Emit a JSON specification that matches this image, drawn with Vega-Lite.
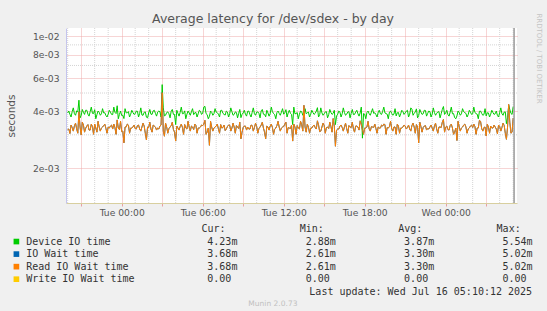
{
"$schema": "https://vega.github.io/schema/vega-lite/v6.json",
"autosize": "none",
"width": 451,
"height": 175,
"padding": {"left": 66, "top": 28, "right": 30, "bottom": 108},
"background": "#f0f0f0",
"config": {"view": {"fill": "#ffffff", "stroke": null}, "font": "DejaVu Sans"},
"title": {"text": "Average latency for /dev/sdex - by day", "fontSize": 12.5, "fontWeight": "normal", "color": "#555555", "anchor": "middle", "dx": -18.5, "dy": 17, "offset": 4, "font": "DejaVu Sans"},
"datasets": {
"s": [
{"t":"2025-07-14T20:00","d":0.00392,"r":0.00320},{"t":"2025-07-14T20:10","d":0.00385,"r":0.00305},{"t":"2025-07-14T20:20","d":0.00398,"r":0.00328},{"t":"2025-07-14T20:30","d":0.00388,"r":0.00335},{"t":"2025-07-14T20:40","d":0.00402,"r":0.00322},{"t":"2025-07-14T20:50","d":0.00458,"r":0.00398},
{"t":"2025-07-14T21:00","d":0.00380,"r":0.00300},{"t":"2025-07-14T21:10","d":0.00395,"r":0.00338},{"t":"2025-07-14T21:20","d":0.00405,"r":0.00325},{"t":"2025-07-14T21:30","d":0.00386,"r":0.00340},{"t":"2025-07-14T21:40","d":0.00398,"r":0.00318},{"t":"2025-07-14T21:50","d":0.00390,"r":0.00332},
{"t":"2025-07-14T22:00","d":0.00408,"r":0.00342},{"t":"2025-07-14T22:10","d":0.00384,"r":0.00310},{"t":"2025-07-14T22:20","d":0.00395,"r":0.00330},{"t":"2025-07-14T22:30","d":0.00388,"r":0.00326},{"t":"2025-07-14T22:40","d":0.00392,"r":0.00336},{"t":"2025-07-14T22:50","d":0.00380,"r":0.00324},
{"t":"2025-07-14T23:00","d":0.00386,"r":0.00330},{"t":"2025-07-14T23:10","d":0.00396,"r":0.00334},{"t":"2025-07-14T23:20","d":0.00384,"r":0.00322},{"t":"2025-07-14T23:30","d":0.00395,"r":0.00328},{"t":"2025-07-14T23:40","d":0.00428,"r":0.00360},{"t":"2025-07-14T23:50","d":0.00385,"r":0.00320},
{"t":"2025-07-15T00:00","d":0.00380,"r":0.00312},{"t":"2025-07-15T00:10","d":0.00366,"r":0.00272},{"t":"2025-07-15T00:20","d":0.00392,"r":0.00330},{"t":"2025-07-15T00:30","d":0.00398,"r":0.00338},{"t":"2025-07-15T00:40","d":0.00386,"r":0.00326},{"t":"2025-07-15T00:50","d":0.00394,"r":0.00330},
{"t":"2025-07-15T01:00","d":0.00388,"r":0.00324},{"t":"2025-07-15T01:10","d":0.00400,"r":0.00336},{"t":"2025-07-15T01:20","d":0.00390,"r":0.00322},{"t":"2025-07-15T01:30","d":0.00382,"r":0.00330},{"t":"2025-07-15T01:40","d":0.00395,"r":0.00334},{"t":"2025-07-15T01:50","d":0.00372,"r":0.00282},
{"t":"2025-07-15T02:00","d":0.00392,"r":0.00328},{"t":"2025-07-15T02:10","d":0.00386,"r":0.00322},{"t":"2025-07-15T02:20","d":0.00402,"r":0.00338},{"t":"2025-07-15T02:30","d":0.00390,"r":0.00330},{"t":"2025-07-15T02:40","d":0.00396,"r":0.00326},{"t":"2025-07-15T02:50","d":0.00398,"r":0.00334},
{"t":"2025-07-15T03:00","d":0.00554,"r":0.00502},{"t":"2025-07-15T03:10","d":0.00378,"r":0.00295},{"t":"2025-07-15T03:20","d":0.00394,"r":0.00330},{"t":"2025-07-15T03:30","d":0.00388,"r":0.00324},{"t":"2025-07-15T03:40","d":0.00400,"r":0.00336},{"t":"2025-07-15T03:50","d":0.00385,"r":0.00320},
{"t":"2025-07-15T04:00","d":0.00340,"r":0.00278},{"t":"2025-07-15T04:10","d":0.00390,"r":0.00326},{"t":"2025-07-15T04:20","d":0.00395,"r":0.00332},{"t":"2025-07-15T04:30","d":0.00388,"r":0.00328},{"t":"2025-07-15T04:40","d":0.00402,"r":0.00340},{"t":"2025-07-15T04:50","d":0.00386,"r":0.00322},
{"t":"2025-07-15T05:00","d":0.00392,"r":0.00330},{"t":"2025-07-15T05:10","d":0.00398,"r":0.00334},{"t":"2025-07-15T05:20","d":0.00384,"r":0.00320},{"t":"2025-07-15T05:30","d":0.00394,"r":0.00336},{"t":"2025-07-15T05:40","d":0.00388,"r":0.00326},{"t":"2025-07-15T05:50","d":0.00400,"r":0.00330},
{"t":"2025-07-15T06:00","d":0.00390,"r":0.00336},{"t":"2025-07-15T06:10","d":0.00425,"r":0.00358},{"t":"2025-07-15T06:20","d":0.00384,"r":0.00310},{"t":"2025-07-15T06:30","d":0.00376,"r":0.00264},{"t":"2025-07-15T06:40","d":0.00395,"r":0.00330},{"t":"2025-07-15T06:50","d":0.00388,"r":0.00326},
{"t":"2025-07-15T07:00","d":0.00396,"r":0.00334},{"t":"2025-07-15T07:10","d":0.00386,"r":0.00322},{"t":"2025-07-15T07:20","d":0.00404,"r":0.00340},{"t":"2025-07-15T07:30","d":0.00390,"r":0.00328},{"t":"2025-07-15T07:40","d":0.00382,"r":0.00316},{"t":"2025-07-15T07:50","d":0.00396,"r":0.00332},
{"t":"2025-07-15T08:00","d":0.00388,"r":0.00338},{"t":"2025-07-15T08:10","d":0.00398,"r":0.00326},{"t":"2025-07-15T08:20","d":0.00385,"r":0.00330},{"t":"2025-07-15T08:30","d":0.00394,"r":0.00336},{"t":"2025-07-15T08:40","d":0.00390,"r":0.00324},{"t":"2025-07-15T08:50","d":0.00370,"r":0.00286},
{"t":"2025-07-15T09:00","d":0.00392,"r":0.00328},{"t":"2025-07-15T09:10","d":0.00386,"r":0.00334},{"t":"2025-07-15T09:20","d":0.00400,"r":0.00330},{"t":"2025-07-15T09:30","d":0.00384,"r":0.00322},{"t":"2025-07-15T09:40","d":0.00395,"r":0.00336},{"t":"2025-07-15T09:50","d":0.00388,"r":0.00328},
{"t":"2025-07-15T10:00","d":0.00396,"r":0.00332},{"t":"2025-07-15T10:10","d":0.00390,"r":0.00324},{"t":"2025-07-15T10:20","d":0.00402,"r":0.00338},{"t":"2025-07-15T10:30","d":0.00386,"r":0.00326},{"t":"2025-07-15T10:40","d":0.00374,"r":0.00286},{"t":"2025-07-15T10:50","d":0.00392,"r":0.00330},
{"t":"2025-07-15T11:00","d":0.00388,"r":0.00334},{"t":"2025-07-15T11:10","d":0.00398,"r":0.00328},{"t":"2025-07-15T11:20","d":0.00384,"r":0.00322},{"t":"2025-07-15T11:30","d":0.00394,"r":0.00336},{"t":"2025-07-15T11:40","d":0.00390,"r":0.00330},{"t":"2025-07-15T11:50","d":0.00396,"r":0.00326},
{"t":"2025-07-15T12:00","d":0.00386,"r":0.00332},{"t":"2025-07-15T12:10","d":0.00408,"r":0.00350},{"t":"2025-07-15T12:20","d":0.00392,"r":0.00328},{"t":"2025-07-15T12:30","d":0.00390,"r":0.00324},{"t":"2025-07-15T12:40","d":0.00340,"r":0.00278},{"t":"2025-07-15T12:50","d":0.00388,"r":0.00330},
{"t":"2025-07-15T13:00","d":0.00394,"r":0.00336},{"t":"2025-07-15T13:10","d":0.00386,"r":0.00322},{"t":"2025-07-15T13:20","d":0.00398,"r":0.00340},{"t":"2025-07-15T13:30","d":0.00392,"r":0.00430},{"t":"2025-07-15T13:40","d":0.00388,"r":0.00310},{"t":"2025-07-15T13:50","d":0.00396,"r":0.00330},
{"t":"2025-07-15T14:00","d":0.00386,"r":0.00326},{"t":"2025-07-15T14:10","d":0.00394,"r":0.00334},{"t":"2025-07-15T14:20","d":0.00390,"r":0.00328},{"t":"2025-07-15T14:30","d":0.00418,"r":0.00356},{"t":"2025-07-15T14:40","d":0.00384,"r":0.00312},{"t":"2025-07-15T14:50","d":0.00392,"r":0.00330},
{"t":"2025-07-15T15:00","d":0.00388,"r":0.00336},{"t":"2025-07-15T15:10","d":0.00398,"r":0.00328},{"t":"2025-07-15T15:20","d":0.00384,"r":0.00324},{"t":"2025-07-15T15:30","d":0.00394,"r":0.00332},{"t":"2025-07-15T15:40","d":0.00390,"r":0.00366},{"t":"2025-07-15T15:50","d":0.00340,"r":0.00261},
{"t":"2025-07-15T16:00","d":0.00386,"r":0.00322},{"t":"2025-07-15T16:10","d":0.00396,"r":0.00334},{"t":"2025-07-15T16:20","d":0.00388,"r":0.00328},{"t":"2025-07-15T16:30","d":0.00394,"r":0.00330},{"t":"2025-07-15T16:40","d":0.00386,"r":0.00324},{"t":"2025-07-15T16:50","d":0.00398,"r":0.00336},
{"t":"2025-07-15T17:00","d":0.00390,"r":0.00328},{"t":"2025-07-15T17:10","d":0.00384,"r":0.00322},{"t":"2025-07-15T17:20","d":0.00396,"r":0.00334},{"t":"2025-07-15T17:30","d":0.00388,"r":0.00330},{"t":"2025-07-15T17:40","d":0.00392,"r":0.00356},{"t":"2025-07-15T17:50","d":0.00288,"r":0.00320},
{"t":"2025-07-15T18:00","d":0.00386,"r":0.00326},{"t":"2025-07-15T18:10","d":0.00394,"r":0.00330},{"t":"2025-07-15T18:20","d":0.00388,"r":0.00322},{"t":"2025-07-15T18:30","d":0.00396,"r":0.00332},{"t":"2025-07-15T18:40","d":0.00390,"r":0.00328},{"t":"2025-07-15T18:50","d":0.00384,"r":0.00324},
{"t":"2025-07-15T19:00","d":0.00394,"r":0.00330},{"t":"2025-07-15T19:10","d":0.00388,"r":0.00326},{"t":"2025-07-15T19:20","d":0.00400,"r":0.00334},{"t":"2025-07-15T19:30","d":0.00392,"r":0.00340},{"t":"2025-07-15T19:40","d":0.00386,"r":0.00328},{"t":"2025-07-15T19:50","d":0.00396,"r":0.00332},
{"t":"2025-07-15T20:00","d":0.00390,"r":0.00324},{"t":"2025-07-15T20:10","d":0.00386,"r":0.00330},{"t":"2025-07-15T20:20","d":0.00378,"r":0.00302},{"t":"2025-07-15T20:30","d":0.00394,"r":0.00334},{"t":"2025-07-15T20:40","d":0.00388,"r":0.00326},{"t":"2025-07-15T20:50","d":0.00398,"r":0.00330},
{"t":"2025-07-15T21:00","d":0.00392,"r":0.00334},{"t":"2025-07-15T21:10","d":0.00405,"r":0.00328},{"t":"2025-07-15T21:20","d":0.00386,"r":0.00322},{"t":"2025-07-15T21:30","d":0.00410,"r":0.00336},{"t":"2025-07-15T21:40","d":0.00390,"r":0.00330},{"t":"2025-07-15T21:50","d":0.00412,"r":0.00340},
{"t":"2025-07-15T22:00","d":0.00380,"r":0.00272},{"t":"2025-07-15T22:10","d":0.00396,"r":0.00332},{"t":"2025-07-15T22:20","d":0.00388,"r":0.00328},{"t":"2025-07-15T22:30","d":0.00404,"r":0.00336},{"t":"2025-07-15T22:40","d":0.00390,"r":0.00324},{"t":"2025-07-15T22:50","d":0.00398,"r":0.00330},
{"t":"2025-07-15T23:00","d":0.00386,"r":0.00326},{"t":"2025-07-15T23:10","d":0.00394,"r":0.00334},{"t":"2025-07-15T23:20","d":0.00390,"r":0.00322},{"t":"2025-07-15T23:30","d":0.00398,"r":0.00330},{"t":"2025-07-15T23:40","d":0.00388,"r":0.00328},{"t":"2025-07-15T23:50","d":0.00424,"r":0.00362},
{"t":"2025-07-16T00:00","d":0.00392,"r":0.00330},{"t":"2025-07-16T00:10","d":0.00384,"r":0.00320},{"t":"2025-07-16T00:20","d":0.00396,"r":0.00336},{"t":"2025-07-16T00:30","d":0.00388,"r":0.00326},{"t":"2025-07-16T00:40","d":0.00370,"r":0.00310},{"t":"2025-07-16T00:50","d":0.00378,"r":0.00280},
{"t":"2025-07-16T01:00","d":0.00394,"r":0.00332},{"t":"2025-07-16T01:10","d":0.00388,"r":0.00326},{"t":"2025-07-16T01:20","d":0.00398,"r":0.00338},{"t":"2025-07-16T01:30","d":0.00390,"r":0.00330},{"t":"2025-07-16T01:40","d":0.00384,"r":0.00322},{"t":"2025-07-16T01:50","d":0.00396,"r":0.00334},
{"t":"2025-07-16T02:00","d":0.00388,"r":0.00328},{"t":"2025-07-16T02:10","d":0.00394,"r":0.00332},{"t":"2025-07-16T02:20","d":0.00386,"r":0.00326},{"t":"2025-07-16T02:30","d":0.00400,"r":0.00358},{"t":"2025-07-16T02:40","d":0.00390,"r":0.00324},{"t":"2025-07-16T02:50","d":0.00384,"r":0.00328},
{"t":"2025-07-16T03:00","d":0.00378,"r":0.00296},{"t":"2025-07-16T03:10","d":0.00392,"r":0.00330},{"t":"2025-07-16T03:20","d":0.00386,"r":0.00334},{"t":"2025-07-16T03:30","d":0.00394,"r":0.00326},{"t":"2025-07-16T03:40","d":0.00388,"r":0.00330},{"t":"2025-07-16T03:50","d":0.00380,"r":0.00304},
{"t":"2025-07-16T04:00","d":0.00394,"r":0.00332},{"t":"2025-07-16T04:10","d":0.00388,"r":0.00328},{"t":"2025-07-16T04:20","d":0.00396,"r":0.00336},{"t":"2025-07-16T04:30","d":0.00344,"r":0.00284},{"t":"2025-07-16T04:40","d":0.00430,"r":0.00435},{"t":"2025-07-16T04:50","d":0.00390,"r":0.00306},
{"t":"2025-07-16T05:00","d":0.00423,"r":0.00368},
{"t":"2025-07-14T20:05","d":0.00401,"r":0.00322},{"t":"2025-07-14T20:15","d":0.00373,"r":0.00338},{"t":"2025-07-14T20:25","d":0.00417,"r":0.00314},{"t":"2025-07-14T20:35","d":0.00381,"r":0.00346},{"t":"2025-07-14T20:45","d":0.00397,"r":0.00306},{"t":"2025-07-14T20:55","d":0.00369,"r":0.00330},{"t":"2025-07-14T21:05","d":0.00409,"r":0.00350},{"t":"2025-07-14T21:15","d":0.00385,"r":0.00310},{"t":"2025-07-14T21:25","d":0.00405,"r":0.00334},{"t":"2025-07-14T21:35","d":0.00377,"r":0.00318},
{"t":"2025-07-14T21:45","d":0.00421,"r":0.00342},{"t":"2025-07-14T21:55","d":0.00389,"r":0.00302},{"t":"2025-07-14T22:05","d":0.00365,"r":0.00326},{"t":"2025-07-14T22:15","d":0.00401,"r":0.00354},{"t":"2025-07-14T22:25","d":0.00381,"r":0.00314},{"t":"2025-07-14T22:35","d":0.00413,"r":0.00330},{"t":"2025-07-14T22:45","d":0.00393,"r":0.00342},{"t":"2025-07-14T22:55","d":0.00373,"r":0.00306},{"t":"2025-07-14T23:05","d":0.00405,"r":0.00326},{"t":"2025-07-14T23:15","d":0.00385,"r":0.00338},
{"t":"2025-07-14T23:25","d":0.00421,"r":0.00342},{"t":"2025-07-14T23:35","d":0.00389,"r":0.00302},{"t":"2025-07-14T23:45","d":0.00365,"r":0.00326},{"t":"2025-07-14T23:55","d":0.00401,"r":0.00354},{"t":"2025-07-15T00:05","d":0.00381,"r":0.00314},{"t":"2025-07-15T00:15","d":0.00413,"r":0.00330},{"t":"2025-07-15T00:25","d":0.00393,"r":0.00342},{"t":"2025-07-15T00:35","d":0.00373,"r":0.00306},{"t":"2025-07-15T00:45","d":0.00405,"r":0.00326},{"t":"2025-07-15T00:55","d":0.00385,"r":0.00338},
{"t":"2025-07-15T01:05","d":0.00401,"r":0.00322},{"t":"2025-07-15T01:15","d":0.00373,"r":0.00338},{"t":"2025-07-15T01:25","d":0.00417,"r":0.00314},{"t":"2025-07-15T01:35","d":0.00381,"r":0.00346},{"t":"2025-07-15T01:45","d":0.00397,"r":0.00306},{"t":"2025-07-15T01:55","d":0.00369,"r":0.00330},{"t":"2025-07-15T02:05","d":0.00409,"r":0.00350},{"t":"2025-07-15T02:15","d":0.00385,"r":0.00310},{"t":"2025-07-15T02:25","d":0.00405,"r":0.00334},{"t":"2025-07-15T02:35","d":0.00377,"r":0.00318},
{"t":"2025-07-15T02:45","d":0.00401,"r":0.00322},{"t":"2025-07-15T02:55","d":0.00373,"r":0.00338},{"t":"2025-07-15T03:05","d":0.00417,"r":0.00314},{"t":"2025-07-15T03:15","d":0.00381,"r":0.00346},{"t":"2025-07-15T03:25","d":0.00397,"r":0.00306},{"t":"2025-07-15T03:35","d":0.00369,"r":0.00330},{"t":"2025-07-15T03:45","d":0.00409,"r":0.00350},{"t":"2025-07-15T03:55","d":0.00385,"r":0.00310},{"t":"2025-07-15T04:05","d":0.00405,"r":0.00334},{"t":"2025-07-15T04:15","d":0.00377,"r":0.00318},
{"t":"2025-07-15T04:25","d":0.00421,"r":0.00342},{"t":"2025-07-15T04:35","d":0.00389,"r":0.00302},{"t":"2025-07-15T04:45","d":0.00365,"r":0.00326},{"t":"2025-07-15T04:55","d":0.00401,"r":0.00354},{"t":"2025-07-15T05:05","d":0.00381,"r":0.00314},{"t":"2025-07-15T05:15","d":0.00413,"r":0.00330},{"t":"2025-07-15T05:25","d":0.00393,"r":0.00342},{"t":"2025-07-15T05:35","d":0.00373,"r":0.00306},{"t":"2025-07-15T05:45","d":0.00405,"r":0.00326},{"t":"2025-07-15T05:55","d":0.00385,"r":0.00338},
{"t":"2025-07-15T06:05","d":0.00421,"r":0.00342},{"t":"2025-07-15T06:15","d":0.00389,"r":0.00302},{"t":"2025-07-15T06:25","d":0.00365,"r":0.00326},{"t":"2025-07-15T06:35","d":0.00401,"r":0.00354},{"t":"2025-07-15T06:45","d":0.00381,"r":0.00314},{"t":"2025-07-15T06:55","d":0.00413,"r":0.00330},{"t":"2025-07-15T07:05","d":0.00393,"r":0.00342},{"t":"2025-07-15T07:15","d":0.00373,"r":0.00306},{"t":"2025-07-15T07:25","d":0.00405,"r":0.00326},{"t":"2025-07-15T07:35","d":0.00385,"r":0.00338},
{"t":"2025-07-15T07:45","d":0.00401,"r":0.00322},{"t":"2025-07-15T07:55","d":0.00373,"r":0.00338},{"t":"2025-07-15T08:05","d":0.00417,"r":0.00314},{"t":"2025-07-15T08:15","d":0.00381,"r":0.00346},{"t":"2025-07-15T08:25","d":0.00397,"r":0.00306},{"t":"2025-07-15T08:35","d":0.00369,"r":0.00330},{"t":"2025-07-15T08:45","d":0.00409,"r":0.00350},{"t":"2025-07-15T08:55","d":0.00385,"r":0.00310},{"t":"2025-07-15T09:05","d":0.00405,"r":0.00334},{"t":"2025-07-15T09:15","d":0.00377,"r":0.00318},
{"t":"2025-07-15T09:25","d":0.00401,"r":0.00322},{"t":"2025-07-15T09:35","d":0.00373,"r":0.00338},{"t":"2025-07-15T09:45","d":0.00417,"r":0.00314},{"t":"2025-07-15T09:55","d":0.00381,"r":0.00346},{"t":"2025-07-15T10:05","d":0.00397,"r":0.00306},{"t":"2025-07-15T10:15","d":0.00369,"r":0.00330},{"t":"2025-07-15T10:25","d":0.00409,"r":0.00350},{"t":"2025-07-15T10:35","d":0.00385,"r":0.00310},{"t":"2025-07-15T10:45","d":0.00405,"r":0.00334},{"t":"2025-07-15T10:55","d":0.00377,"r":0.00318},
{"t":"2025-07-15T11:05","d":0.00421,"r":0.00342},{"t":"2025-07-15T11:15","d":0.00389,"r":0.00302},{"t":"2025-07-15T11:25","d":0.00365,"r":0.00326},{"t":"2025-07-15T11:35","d":0.00401,"r":0.00354},{"t":"2025-07-15T11:45","d":0.00381,"r":0.00314},{"t":"2025-07-15T11:55","d":0.00413,"r":0.00330},{"t":"2025-07-15T12:05","d":0.00393,"r":0.00342},{"t":"2025-07-15T12:15","d":0.00373,"r":0.00306},{"t":"2025-07-15T12:25","d":0.00405,"r":0.00326},{"t":"2025-07-15T12:35","d":0.00385,"r":0.00338},
{"t":"2025-07-15T12:45","d":0.00421,"r":0.00342},{"t":"2025-07-15T12:55","d":0.00389,"r":0.00302},{"t":"2025-07-15T13:05","d":0.00365,"r":0.00326},{"t":"2025-07-15T13:15","d":0.00401,"r":0.00354},{"t":"2025-07-15T13:25","d":0.00381,"r":0.00314},{"t":"2025-07-15T13:35","d":0.00413,"r":0.00330},{"t":"2025-07-15T13:45","d":0.00393,"r":0.00342},{"t":"2025-07-15T13:55","d":0.00373,"r":0.00306},{"t":"2025-07-15T14:05","d":0.00405,"r":0.00326},{"t":"2025-07-15T14:15","d":0.00385,"r":0.00338},
{"t":"2025-07-15T14:25","d":0.00401,"r":0.00322},{"t":"2025-07-15T14:35","d":0.00373,"r":0.00338},{"t":"2025-07-15T14:45","d":0.00417,"r":0.00314},{"t":"2025-07-15T14:55","d":0.00381,"r":0.00346},{"t":"2025-07-15T15:05","d":0.00397,"r":0.00306},{"t":"2025-07-15T15:15","d":0.00369,"r":0.00330},{"t":"2025-07-15T15:25","d":0.00409,"r":0.00350},{"t":"2025-07-15T15:35","d":0.00385,"r":0.00310},{"t":"2025-07-15T15:45","d":0.00405,"r":0.00334},{"t":"2025-07-15T15:55","d":0.00377,"r":0.00318},
{"t":"2025-07-15T16:05","d":0.00401,"r":0.00322},{"t":"2025-07-15T16:15","d":0.00373,"r":0.00338},{"t":"2025-07-15T16:25","d":0.00417,"r":0.00314},{"t":"2025-07-15T16:35","d":0.00381,"r":0.00346},{"t":"2025-07-15T16:45","d":0.00397,"r":0.00306},{"t":"2025-07-15T16:55","d":0.00369,"r":0.00330},{"t":"2025-07-15T17:05","d":0.00409,"r":0.00350},{"t":"2025-07-15T17:15","d":0.00385,"r":0.00310},{"t":"2025-07-15T17:25","d":0.00405,"r":0.00334},{"t":"2025-07-15T17:35","d":0.00377,"r":0.00318},
{"t":"2025-07-15T17:45","d":0.00421,"r":0.00342},{"t":"2025-07-15T17:55","d":0.00389,"r":0.00302},{"t":"2025-07-15T18:05","d":0.00365,"r":0.00326},{"t":"2025-07-15T18:15","d":0.00401,"r":0.00354},{"t":"2025-07-15T18:25","d":0.00381,"r":0.00314},{"t":"2025-07-15T18:35","d":0.00413,"r":0.00330},{"t":"2025-07-15T18:45","d":0.00393,"r":0.00342},{"t":"2025-07-15T18:55","d":0.00373,"r":0.00306},{"t":"2025-07-15T19:05","d":0.00405,"r":0.00326},{"t":"2025-07-15T19:15","d":0.00385,"r":0.00338},
{"t":"2025-07-15T19:25","d":0.00421,"r":0.00342},{"t":"2025-07-15T19:35","d":0.00389,"r":0.00302},{"t":"2025-07-15T19:45","d":0.00365,"r":0.00326},{"t":"2025-07-15T19:55","d":0.00401,"r":0.00354},{"t":"2025-07-15T20:05","d":0.00381,"r":0.00314},{"t":"2025-07-15T20:15","d":0.00413,"r":0.00330},{"t":"2025-07-15T20:25","d":0.00393,"r":0.00342},{"t":"2025-07-15T20:35","d":0.00373,"r":0.00306},{"t":"2025-07-15T20:45","d":0.00405,"r":0.00326},{"t":"2025-07-15T20:55","d":0.00385,"r":0.00338},
{"t":"2025-07-15T21:05","d":0.00401,"r":0.00322},{"t":"2025-07-15T21:15","d":0.00373,"r":0.00338},{"t":"2025-07-15T21:25","d":0.00417,"r":0.00314},{"t":"2025-07-15T21:35","d":0.00381,"r":0.00346},{"t":"2025-07-15T21:45","d":0.00397,"r":0.00306},{"t":"2025-07-15T21:55","d":0.00369,"r":0.00330},{"t":"2025-07-15T22:05","d":0.00409,"r":0.00350},{"t":"2025-07-15T22:15","d":0.00385,"r":0.00310},{"t":"2025-07-15T22:25","d":0.00405,"r":0.00334},{"t":"2025-07-15T22:35","d":0.00377,"r":0.00318},
{"t":"2025-07-15T22:45","d":0.00401,"r":0.00322},{"t":"2025-07-15T22:55","d":0.00373,"r":0.00338},{"t":"2025-07-15T23:05","d":0.00417,"r":0.00314},{"t":"2025-07-15T23:15","d":0.00381,"r":0.00346},{"t":"2025-07-15T23:25","d":0.00397,"r":0.00306},{"t":"2025-07-15T23:35","d":0.00369,"r":0.00330},{"t":"2025-07-15T23:45","d":0.00409,"r":0.00350},{"t":"2025-07-15T23:55","d":0.00385,"r":0.00310},{"t":"2025-07-16T00:05","d":0.00405,"r":0.00334},{"t":"2025-07-16T00:15","d":0.00377,"r":0.00318},
{"t":"2025-07-16T00:25","d":0.00421,"r":0.00342},{"t":"2025-07-16T00:35","d":0.00389,"r":0.00302},{"t":"2025-07-16T00:45","d":0.00365,"r":0.00326},{"t":"2025-07-16T00:55","d":0.00401,"r":0.00354},{"t":"2025-07-16T01:05","d":0.00381,"r":0.00314},{"t":"2025-07-16T01:15","d":0.00413,"r":0.00330},{"t":"2025-07-16T01:25","d":0.00393,"r":0.00342},{"t":"2025-07-16T01:35","d":0.00373,"r":0.00306},{"t":"2025-07-16T01:45","d":0.00405,"r":0.00326},{"t":"2025-07-16T01:55","d":0.00385,"r":0.00338},
{"t":"2025-07-16T02:05","d":0.00421,"r":0.00342},{"t":"2025-07-16T02:15","d":0.00389,"r":0.00302},{"t":"2025-07-16T02:25","d":0.00365,"r":0.00326},{"t":"2025-07-16T02:35","d":0.00401,"r":0.00354},{"t":"2025-07-16T02:45","d":0.00381,"r":0.00314},{"t":"2025-07-16T02:55","d":0.00413,"r":0.00330},{"t":"2025-07-16T03:05","d":0.00393,"r":0.00342},{"t":"2025-07-16T03:15","d":0.00373,"r":0.00306},{"t":"2025-07-16T03:25","d":0.00405,"r":0.00326},{"t":"2025-07-16T03:35","d":0.00385,"r":0.00338},
{"t":"2025-07-16T03:45","d":0.00401,"r":0.00322},{"t":"2025-07-16T03:55","d":0.00373,"r":0.00338},{"t":"2025-07-16T04:05","d":0.00417,"r":0.00314},{"t":"2025-07-16T04:15","d":0.00381,"r":0.00346},{"t":"2025-07-16T04:25","d":0.00397,"r":0.00306},{"t":"2025-07-16T04:35","d":0.00369,"r":0.00330},{"t":"2025-07-16T04:45","d":0.00409,"r":0.00350},{"t":"2025-07-16T04:55","d":0.00385,"r":0.00310}
],
"now": [{"t":"2025-07-16T05:04"}],
"vmin": [{"t":"2025-07-14T20:00"},{"t":"2025-07-14T22:00"},{"t":"2025-07-14T23:00"},{"t":"2025-07-15T01:00"},{"t":"2025-07-15T02:00"},{"t":"2025-07-15T04:00"},{"t":"2025-07-15T05:00"},{"t":"2025-07-15T07:00"},{"t":"2025-07-15T08:00"},{"t":"2025-07-15T10:00"},{"t":"2025-07-15T11:00"},{"t":"2025-07-15T13:00"},{"t":"2025-07-15T14:00"},{"t":"2025-07-15T16:00"},{"t":"2025-07-15T17:00"},{"t":"2025-07-15T19:00"},{"t":"2025-07-15T20:00"},{"t":"2025-07-15T22:00"},{"t":"2025-07-15T23:00"},{"t":"2025-07-16T01:00"},{"t":"2025-07-16T02:00"},{"t":"2025-07-16T04:00"},{"t":"2025-07-16T05:00"}],
"hmin": [{"v":0.003},{"v":0.005},{"v":0.007},{"v":0.009}],
"tbl": [
{"row":"head","col":"cur","v":"Cur:"},{"row":"head","col":"min","v":"Min:"},{"row":"head","col":"avg","v":"Avg:"},{"row":"head","col":"max","v":"Max:"},
{"row":"dev","col":"cur","v":"4.23m"},{"row":"dev","col":"min","v":"2.88m"},{"row":"dev","col":"avg","v":"3.87m"},{"row":"dev","col":"max","v":"5.54m"},
{"row":"iow","col":"cur","v":"3.68m"},{"row":"iow","col":"min","v":"2.61m"},{"row":"iow","col":"avg","v":"3.30m"},{"row":"iow","col":"max","v":"5.02m"},
{"row":"rd","col":"cur","v":"3.68m"},{"row":"rd","col":"min","v":"2.61m"},{"row":"rd","col":"avg","v":"3.30m"},{"row":"rd","col":"max","v":"5.02m"},
{"row":"wr","col":"cur","v":"0.00"},{"row":"wr","col":"min","v":"0.00"},{"row":"wr","col":"avg","v":"0.00"},{"row":"wr","col":"max","v":"0.00"},
{"row":"upd","col":"max","v":"Last update: Wed Jul 16 05:10:12 2025"},
{"row":"munin","col":"min","v":"Munin 2.0.73"}
],
"leg": [
{"row":"dev","c":"sw","name":"Device IO time"},{"row":"iow","c":"sw","name":"IO Wait time"},{"row":"rd","c":"sw","name":"Read IO Wait time"},{"row":"wr","c":"sw","name":"Write IO Wait time"}
]
},
"layer": [
{
"layer": [
{"data":{"name":"vmin"},"mark":{"type":"rule","color":"#d4d4d4","strokeWidth":1,"strokeDash":[1,1]},
"encoding":{"x":{"field":"t","type":"temporal","title":null,"scale":{"domain":[{"year":2025,"month":7,"date":14,"hours":19,"minutes":52,"seconds":30},{"year":2025,"month":7,"date":16,"hours":5,"minutes":17}]}}}},
{"data":{"name":"hmin"},"mark":{"type":"rule","color":"#d4d4d4","strokeWidth":1,"strokeDash":[1,1]},
"encoding":{"y":{"field":"v","type":"quantitative","title":"seconds","scale":{"type":"log","domain":[0.001305,0.01106],"nice":false}}}},
{"data":{"name":"s"},"mark":{"type":"line","strokeWidth":1,"color":"#00cc00"},
"encoding":{
"x":{"field":"t","type":"temporal","title":null,"scale":{"domain":[{"year":2025,"month":7,"date":14,"hours":19,"minutes":52,"seconds":30},{"year":2025,"month":7,"date":16,"hours":5,"minutes":17}]},
"axis":{"values":[{"year":2025,"month":7,"date":14,"hours":21},{"year":2025,"month":7,"date":15,"hours":0},{"year":2025,"month":7,"date":15,"hours":3},{"year":2025,"month":7,"date":15,"hours":6},{"year":2025,"month":7,"date":15,"hours":9},{"year":2025,"month":7,"date":15,"hours":12},{"year":2025,"month":7,"date":15,"hours":15},{"year":2025,"month":7,"date":15,"hours":18},{"year":2025,"month":7,"date":15,"hours":21},{"year":2025,"month":7,"date":16,"hours":0},{"year":2025,"month":7,"date":16,"hours":3}],
"labelExpr":"hours(datum.value) % 6 == 0 ? timeFormat(datum.value, '%a %H:%M') : ''","labelOverlap":false,"labelFlush":false,"labelFontSize":9.2,"labelColor":"#555555","labelFont":"DejaVu Sans","labelPadding":2,"tickSize":3,"tickColor":"#e8a0a0",
"grid":true,"gridColor":"#eeaaaa","gridDash":[1,1],"domainColor":"#d8cf9f"}},
"y":{"field":"d","type":"quantitative","title":"seconds","scale":{"type":"log","domain":[0.001305,0.01106],"nice":false},
"axis":{"values":[0.002,0.004,0.006,0.008,0.01],"labelExpr":"replace(format(datum.value, '.0e'), 'e-', 'e-0')",
"grid":true,"gridColor":"#eeaaaa","gridDash":[1,1],"tickSize":0,"labelPadding":7,"labelFontSize":9.2,"labelColor":"#555555","labelFont":"DejaVu Sans","labelOverlap":false,"labelFlush":false,"domainColor":"#c4c4ee",
"titleFontSize":10.5,"titleColor":"#555555","titleFontWeight":"normal","titleFont":"DejaVu Sans","titleX":-55,"titleY":87.5,"titleAlign":"center","titleBaseline":"middle","titleAngle":-90}}}},
{"data":{"name":"s"},"mark":{"type":"line","strokeWidth":1,"color":"#0066b3"},
"encoding":{"x":{"field":"t","type":"temporal","title":null},"y":{"field":"r","type":"quantitative","title":"seconds"}}},
{"data":{"name":"s"},"mark":{"type":"line","strokeWidth":1,"color":"#ff8000"},
"encoding":{"x":{"field":"t","type":"temporal","title":null},"y":{"field":"r","type":"quantitative","title":"seconds"}}},
{"data":{"name":"now"},"mark":{"type":"rule","color":"#9a9a9a","strokeWidth":1.5},
"encoding":{"x":{"field":"t","type":"temporal","title":null}}}
]
},
{
"data": {"name": "tbl"},
"encoding": {
"x": {"field":"col","type":"ordinal","scale":{"type":"point","domain":["cur","min","avg","max"],"range":[141.3,436.5],"padding":0},"axis":null},
"y": {"field":"row","type":"ordinal","scale":{"type":"point","domain":["head","dev","iow","rd","wr","upd","munin"],"range":[201,276.3],"padding":0},
"axis":{"orient":"right","labels":false,"ticks":false,"domain":false,"grid":false,"title":"RRDTOOL / TOBI OETIKER","titleAngle":90,"titleX":21.3,"titleY":30,"titleAlign":"center","titleBaseline":"middle","titleFontSize":7,"titleColor":"#c4c4c4","titleFont":"DejaVu Sans","titleFontWeight":"normal"}},
"text": {"field":"v"}
},
"layer": [
{"transform":[{"filter":"datum.row != 'head' && datum.row != 'upd' && datum.row != 'munin'"}],"mark":{"type":"text","align":"left","baseline":"middle","font":"DejaVu Sans Mono","fontSize":10,"color":"#333333"}},
{"transform":[{"filter":"datum.row == 'head'"}],"mark":{"type":"text","align":"left","baseline":"middle","font":"DejaVu Sans Mono","fontSize":10,"color":"#333333","dx":-5.9}},
{"transform":[{"filter":"datum.row == 'upd'"}],"mark":{"type":"text","align":"right","baseline":"middle","font":"DejaVu Sans Mono","fontSize":10,"color":"#333333","dx":29.6}},
{"transform":[{"filter":"datum.row == 'munin'"}],"mark":{"type":"text","align":"center","baseline":"middle","font":"DejaVu Sans","fontSize":7.5,"color":"#c0c0c0","dx":-32.8}}
]
},
{
"data": {"name": "leg"},
"encoding": {
"x": {"field":"c","type":"ordinal","scale":{"type":"point","domain":["sw","label"],"range":[-49.6,-39.8],"padding":0},"axis":null},
"y": {"field":"row","type":"ordinal","scale":{"type":"point","domain":["head","dev","iow","rd","wr","upd","munin"],"range":[201,276.3],"padding":0},"axis":null}
},
"layer": [
{"mark":{"type":"square","size":32,"opacity":1,"filled":true},"encoding":{"color":{"field":"name","type":"nominal","scale":{"domain":["Device IO time","IO Wait time","Read IO Wait time","Write IO Wait time"],"range":["#00cc00","#0066b3","#ff8000","#ffcc00"]},"legend":null}}},
{"mark":{"type":"text","align":"left","baseline":"middle","font":"DejaVu Sans Mono","fontSize":10,"color":"#333333","dx":9.8},"encoding":{"text":{"field":"name"}}}
]
}
],
"resolve": {"scale": {"x": "independent", "y": "independent"}}
}
